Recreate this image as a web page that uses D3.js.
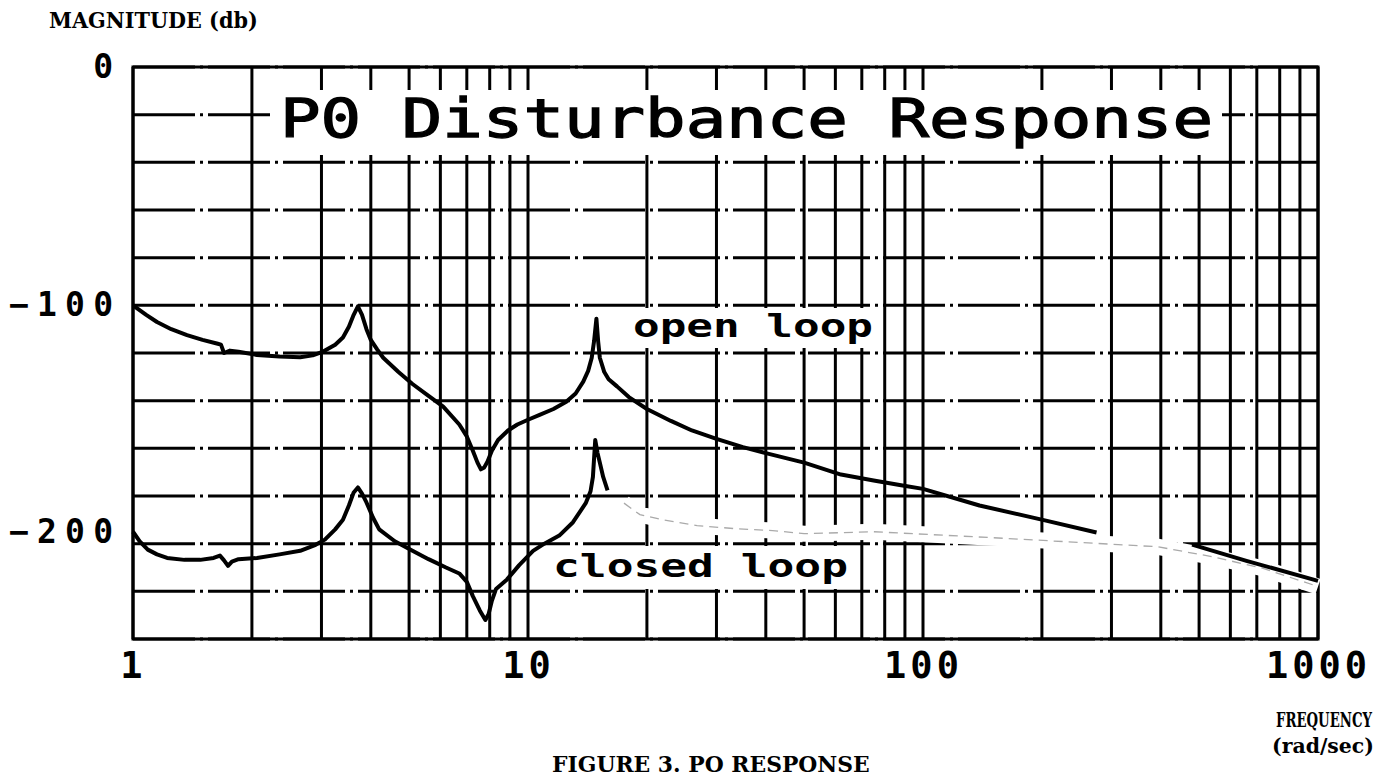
<!DOCTYPE html>
<html>
<head>
<meta charset="utf-8">
<script src="https://cdn.jsdelivr.net/npm/d3@7"></script>
<style>
  body { margin: 0; background: #fff; }
  svg { display: block; background: #fff; }
</style>
</head>
<body>
<svg id="drawing_region"></svg>
<script>
// values (rad/sec, db)
var openFreq = [1.00, 1.08, 1.15, 1.25, 1.37, 1.50, 1.63, 1.67, 1.70, 1.76, 1.85, 2.06, 2.35, 2.65, 2.85, 3.03, 3.25, 3.40, 3.52, 3.62, 3.71,
  3.80, 3.90, 4.00, 4.15, 4.30, 4.70, 5.10, 5.60, 6.10, 6.70, 7.00, 7.25, 7.45, 7.60, 7.75, 7.90, 8.10, 8.40, 8.90, 9.40, 10.0,
  10.7, 11.6, 12.5, 13.2, 13.8, 14.2, 14.5, 14.7, 14.9, 15.05, 15.2, 15.6, 16.0, 16.8, 18.0, 20, 23, 26, 30, 35, 40, 50, 62, 75,
  88, 100, 139, 201, 275, 350, 480, 659, 1000];
var openDb = [-100, -104, -107, -110, -112.5, -114.5, -116, -116.5, -120, -119, -119.5, -120.8, -121.5, -121.8, -121, -119.4, -116.5, -113.5, -109, -104, -100.4,
  -104, -110, -114.5, -118.5, -122, -128, -133, -138, -142.5, -150, -155, -161, -166, -168.8, -168, -165.5, -161, -156.5, -152.5, -150, -148,
  -146, -143.5, -140.5, -137, -132, -127.5, -122, -115, -105.6, -115, -122, -128, -131, -134, -138.5, -143.5, -148.5, -152.5, -156, -159.5, -162, -166, -171, -173.5,
  -175.5, -177, -184, -190, -195.3, null, -200.4, -207.2, -215.6];

var closedFreq = [1.00, 1.04, 1.09, 1.15, 1.22, 1.35, 1.48, 1.60, 1.66, 1.70, 1.74, 1.78, 1.85, 2.06, 2.35, 2.65, 2.90, 3.06, 3.25, 3.40, 3.52, 3.62, 3.71,
  3.80, 3.90, 4.05, 4.20, 4.60, 5.10, 5.60, 6.20, 6.70, 7.00, 7.25, 7.55, 7.80, 7.95, 8.10, 8.30, 8.85, 9.50, 10.3, 11.0, 12.0, 13.0,
  14.0, 14.4, 14.6, 14.8, 15.0, 15.2, 15.5, 15.9];
var closedDb = [-195, -199, -202.5, -204.5, -206, -206.8, -206.8, -206, -205, -207, -209.3, -207.5, -206.5, -206, -204.5, -203, -200.5, -198.3, -194, -190, -184, -178.5, -176.4,
  -179, -182.7, -189, -194, -199, -203, -206.5, -210, -212.5, -216, -222, -228, -232, -229.5, -224, -219, -215, -209, -203, -200, -196.6, -191,
  -183, -178, -172, -156.5, -162, -166, -172, -177.6];

// faint (light pen) part of the closed loop trace
var closedTailFreq = [17.5, 19.2, 22, 26.8, 34, 41.6, 50, 75, 150, 250, 393, 541, 723, 976, 1000];
var closedTailDb = [-183, -187.8, -190, -192.4, -193.8, -194.5, -195.8, -195, -197.5, -199.5, -201.3, -205.5, -210.3, -217.4, -218];

var xTicks = [1, 10, 100, 1000];
var yTicks = [0, -100, -200];

var config = {
  parent: '#drawing_region',
  width: 1387,
  height: 781,
  margin: {top: 67, right: 69, bottom: 142, left: 133}
};

class BodePlot {
  constructor(config) {
    this.config = config;
    this.init();
  }
  init() {
    this.svg = d3.select(this.config.parent)
      .attr('width', this.config.width)
      .attr('height', this.config.height);
    this.chart = this.svg.append('g')
      .attr('transform', `translate(${this.config.margin.left}, ${this.config.margin.top})`);
    this.inner_width = this.config.width - this.config.margin.left - this.config.margin.right;
    this.inner_height = this.config.height - this.config.margin.top - this.config.margin.bottom;

    this.xscale = d3.scaleLog().domain([1, 1000]).range([0, this.inner_width]);
    this.yscale = d3.scaleLinear().domain([-240, 0]).range([this.inner_height, 0]);
  }
  render() {
    const W = this.inner_width, H = this.inner_height;
    const x = this.xscale, y = this.yscale;

    // grid
    const grid = this.chart.append('g');
    grid.selectAll('.hgrid')
      .data(y.ticks(12))
      .join('line')
      .attr('x1', 0).attr('x2', W)
      .attr('y1', d => y(d)).attr('y2', d => y(d))
      .attr('stroke', '#000').attr('stroke-width', 3)
      .attr('stroke-dasharray', '62 5 3 5');
    grid.selectAll('.vgrid')
      .data(x.ticks())
      .join('line')
      .attr('x1', d => x(d)).attr('x2', d => x(d))
      .attr('y1', 0).attr('y2', H)
      .attr('stroke', '#000').attr('stroke-width', 3);
    grid.append('rect')
      .attr('width', W).attr('height', H)
      .attr('fill', 'none').attr('stroke', '#000').attr('stroke-width', 3);

    // white boxes behind title and labels
    const boxes = [[272 - 133, 90 - 67, 950, 65], [625 - 133, 308 - 67, 257, 40], [540 - 133, 546 - 67, 320, 43]];
    this.chart.selectAll('.box')
      .data(boxes)
      .join('rect')
      .attr('x', d => d[0]).attr('y', d => d[1])
      .attr('width', d => d[2]).attr('height', d => d[3])
      .attr('fill', '#fff');

    const line = d3.line()
      .defined(d => d[1] != null)
      .x(d => x(d[0]))
      .y(d => y(d[1]));

    const tail = closedTailFreq.map((f, i) => [f, closedTailDb[i]]);
    this.chart.append('path')
      .attr('d', line(tail))
      .attr('fill', 'none').attr('stroke', '#fff').attr('stroke-width', 16);
    this.chart.append('path')
      .attr('d', line(tail))
      .attr('fill', 'none').attr('stroke', '#aaa').attr('stroke-width', 1.3)
      .attr('stroke-dasharray', '9 6');

    this.chart.append('path')
      .attr('d', line(openFreq.map((f, i) => [f, openDb[i]])))
      .attr('fill', 'none').attr('stroke', '#000').attr('stroke-width', 4)
      .attr('stroke-linejoin', 'round');
    this.chart.append('path')
      .attr('d', line(closedFreq.map((f, i) => [f, closedDb[i]])))
      .attr('fill', 'none').attr('stroke', '#000').attr('stroke-width', 4)
      .attr('stroke-linejoin', 'round');

    // axes
    const xaxis = d3.axisBottom(x).tickValues(xTicks).tickFormat(d3.format('d')).tickSize(0).tickPadding(13);
    const xg = this.chart.append('g')
      .attr('transform', `translate(0, ${H})`)
      .call(xaxis);
    const yaxis = d3.axisLeft(y).tickValues(yTicks).tickFormat(d3.format('d')).tickSize(0).tickPadding(20);
    const yg = this.chart.append('g').call(yaxis);
    [xg, yg].forEach(g => {
      g.select('.domain').remove();
      g.selectAll('text')
        .attr('fill', '#000')
        .style('font-family', '"DejaVu Sans Mono", monospace')
        .style('font-weight', 'bold');
    });
    xg.selectAll('text').style('font-size', '37px').style('letter-spacing', '4px');
    yg.selectAll('text').style('font-size', '33px').each(function(d) {
      const n = String(d).length;
      if (n > 1) d3.select(this).attr('textLength', n * 26).attr('lengthAdjust', 'spacing');
    });
    // the -200 label sits a little above its line in the original
    yg.selectAll('.tick').filter(d => d === -200).select('text').attr('dy', '-0.05em');

    // plot texts (monospace, stretched by spacing)
    const mono = '"DejaVu Sans Mono", monospace';
    const plotTexts = [
      {t: 'P0 Disturbance Response', x: 280, y: 137, len: 933, size: 54, w: 'normal', s: 1.3},
      {t: 'open loop', x: 633, y: 337, len: 240, size: 32, w: 'bold', s: 0},
      {t: 'closed loop', x: 553, y: 577, len: 295, size: 32, w: 'bold', s: 0}
    ];
    this.svg.selectAll('.ptxt')
      .data(plotTexts)
      .join('text')
      .attr('x', d => d.x).attr('y', d => d.y)
      .attr('textLength', d => d.len).attr('lengthAdjust', 'spacingAndGlyphs')
      .style('font-family', mono)
      .style('font-size', d => d.size + 'px')
      .style('font-weight', d => d.w)
      .attr('fill', '#000')
      .attr('stroke', '#000')
      .attr('stroke-width', d => d.s)
      .text(d => d.t);

    // typewritten captions, squeezed horizontally to fit their width
    const type = '"DejaVu Serif", "Liberation Serif", serif';
    const captions = [
      {t: 'MAGNITUDE (db)', x: 49, y: 28, len: 209, size: 22},
      {t: 'FIGURE 3. PO RESPONSE', x: 552, y: 772, len: 318, size: 23},
      {t: 'FREQUENCY', x: 1276, y: 727, len: 96, size: 20},
      {t: '(rad/sec)', x: 1272, y: 753, len: 102, size: 21}
    ];
    this.svg.selectAll('.cap')
      .data(captions)
      .join('text')
      .style('font-family', type)
      .style('font-size', d => d.size + 'px')
      .style('font-weight', 'bold')
      .attr('fill', '#000')
      .text(d => d.t)
      .each(function(d) {
        const sx = d.len / this.getComputedTextLength();
        d3.select(this).attr('transform', `translate(${d.x}, ${d.y}) scale(${sx}, 1)`);
      });
  }
}

const plot = new BodePlot(config);
plot.render();
</script>
</body>
</html>
